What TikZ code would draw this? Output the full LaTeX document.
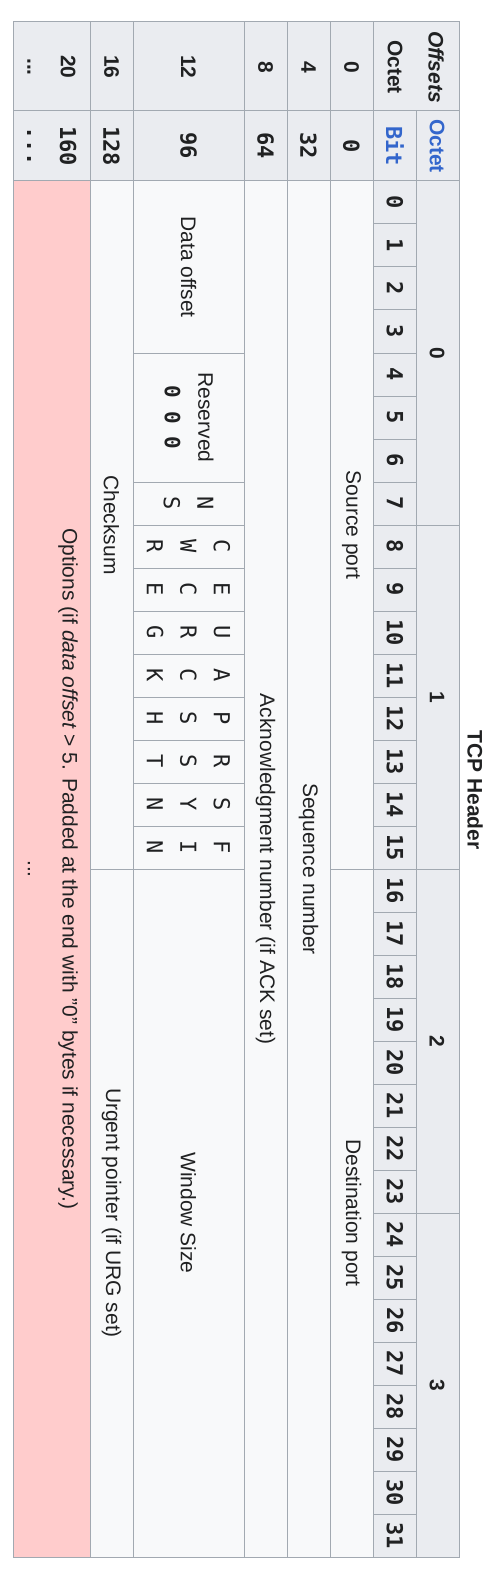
\documentclass[tikz,border=0pt]{standalone}
\usepackage{fontspec}
\setmainfont{Liberation Sans}
\newfontfamily\monof{DejaVu Sans Mono}
\usepackage{xcolor}
\definecolor{headgray}{HTML}{EAECF0}
\definecolor{cellgray}{HTML}{F8F9FA}
\definecolor{rulegray}{HTML}{A2A9B1}
\definecolor{optpink}{HTML}{FFCCCC}
\definecolor{linkblue}{HTML}{3366CC}
\definecolor{inkblack}{HTML}{202122}

\begin{document}
\begin{tikzpicture}[x=1pt, y=-1pt,
    cell/.style={draw=rulegray, line width=1pt},
    txt/.style={rotate=-90, inner sep=0pt, align=center, text=inkblack,
      font=\fontsize{21}{33.5}\selectfont},
    bold/.style={txt, font=\fontsize{21}{33.5}\selectfont\bfseries},
    mono/.style={txt, font=\monof\fontsize{22}{33.5}\selectfont},
    monob/.style={txt, font=\monof\fontsize{22}{33.5}\selectfont\bfseries}]
  \useasboundingbox (0,0) rectangle (502,1578);

  % header block
  \path[cell, fill=headgray] (373,22) rectangle (459,111);
  \path[cell, fill=headgray] (416,111) rectangle (459,181);
  \path[cell, fill=headgray] (373,111) rectangle (416,181);
  \foreach \o in {0,...,3} {
    \path[cell, fill=headgray] (416,{181+344*\o}) rectangle (459,{525+344*\o});
    \node[bold] (oct\o) at (437,{353+344*\o}) {\o};
  }
  \foreach \b in {0,...,31} {
    \path[cell, fill=headgray] (373,{181+43*\b}) rectangle (416,{224+43*\b});
    \node[monob] (bit\b) at (395,{202.5+43*\b}) {\b};
  }
  \node[bold, font=\fontsize{21}{33.5}\selectfont\bfseries\itshape] (offsets) at (436,67) {Offsets};
  \node[bold] (octetrow) at (395,67) {Octet};
  \node[bold, text=linkblue] (octetcol) at (437,146) {Octet};
  \node[monob, text=linkblue] (bitcol) at (395,146) {Bit};
  \node[bold] (title) at (475,790) {TCP Header};

  % offset columns
  \foreach \lo/\hi/\oct/\bits in {330/373/0/0, 287/330/4/32, 244/287/8/64,
      133/244/12/96, 90/133/16/128} {
    \path[cell, fill=headgray] (\lo,22) rectangle (\hi,111);
    \path[cell, fill=headgray] (\lo,111) rectangle (\hi,181);
    \node[bold] (off\oct) at ({(\lo+\hi)/2},67) {\oct};
    \node[monob] (offbit\oct) at ({(\lo+\hi)/2},146) {\bits};
  }
  \path[cell, fill=headgray] (13,22) rectangle (90,111);
  \path[cell, fill=headgray] (13,111) rectangle (90,181);
  \node[bold] (off20) at (68,67) {20};
  \node[bold] (offmore) at (29,67) {...};
  \node[monob] (offbit20) at (68,146) {160};
  \node[monob] (offbitmore) at (29,146) {...};

  % fields
  \path[cell, fill=cellgray] (330,181) rectangle (373,869);
  \node[txt] (srcport) at (351.5,525) {Source port};
  \path[cell, fill=cellgray] (330,869) rectangle (373,1557);
  \node[txt] (dstport) at (351.5,1213) {Destination port};
  \path[cell, fill=cellgray] (287,181) rectangle (330,1557);
  \node[txt] (seqnum) at (308.5,869) {Sequence number};
  \path[cell, fill=cellgray] (244,181) rectangle (287,1557);
  \node[txt] (acknum) at (265.5,869) {Acknowledgment number (if ACK set)};

  \path[cell, fill=cellgray] (133,181) rectangle (244,353);
  \node[txt] (dataoff) at (188.5,267) {Data offset};
  \path[cell, fill=cellgray] (133,353) rectangle (244,482);
  \node[txt] (reserved) at (189,417.5) {Reserved\\{\monof\bfseries 0 0 0}};
  \foreach \b/\flag in {7/N\\S, 8/C\\W\\R, 9/E\\C\\E, 10/U\\R\\G, 11/A\\C\\K,
      12/P\\S\\H, 13/R\\S\\T, 14/S\\Y\\N, 15/F\\I\\N} {
    \path[cell, fill=cellgray] (133,{181+43*\b}) rectangle (244,{224+43*\b});
    \node[mono] (flag\b) at (188.5,{202.5+43*\b}) {\flag};
  }
  \path[cell, fill=cellgray] (133,869) rectangle (244,1557);
  \node[txt] (window) at (188.5,1213) {Window Size};

  \path[cell, fill=cellgray] (90,181) rectangle (133,869);
  \node[txt] (checksum) at (111.5,525) {Checksum};
  \path[cell, fill=cellgray] (90,869) rectangle (133,1557);
  \node[txt] (urgent) at (111.5,1213) {Urgent pointer (if URG set)};

  \path[cell, fill=optpink] (13,181) rectangle (90,1557);
  \node[txt] (options) at (68,869) {Options (if \textit{data offset} > 5. Padded at the end with "0" bytes if necessary.)};
  \node[txt] (optmore) at (29,869) {...};
\end{tikzpicture}
\end{document}
